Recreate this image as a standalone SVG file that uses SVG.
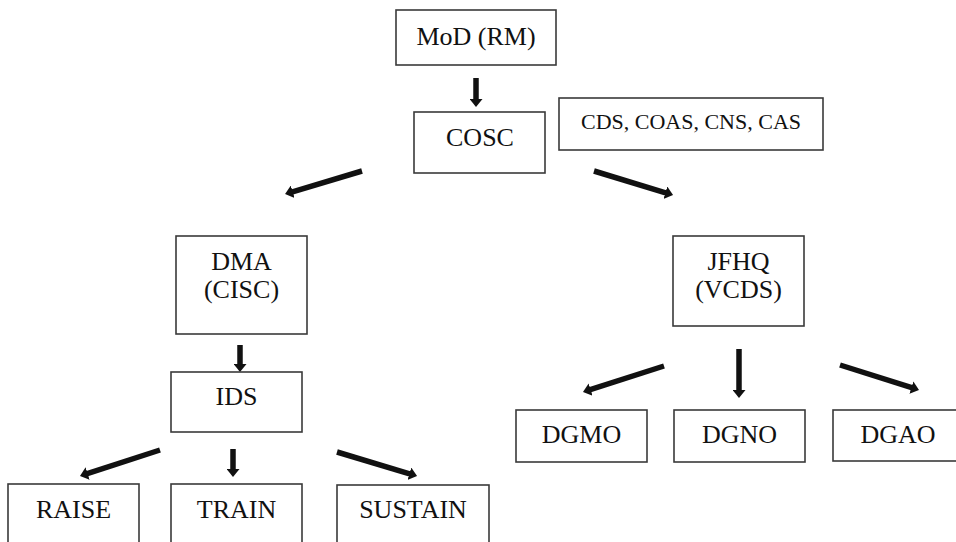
<svg xmlns="http://www.w3.org/2000/svg" width="956" height="542" viewBox="0 0 956 542" font-family="'Liberation Serif', 'DejaVu Serif', serif">
<style>
  .box { fill: #ffffff; stroke: #3a3a3a; stroke-width: 1.6; }
  .lbl { font-family: 'Liberation Serif', 'DejaVu Serif', serif; font-size: 26px; fill: #111111; text-anchor: middle; }
  .sm { font-size: 22px; }
  .arr { stroke: #111111; stroke-width: 5.5; fill: none; marker-end: url(#head); }
</style>
<defs>
  <marker id="head" markerUnits="userSpaceOnUse" viewBox="0 0 8 13" markerWidth="8" markerHeight="13" refX="2" refY="6.5" orient="auto">
    <path d="M0,0 L8,6.5 L0,13 z" fill="#111111"/>
  </marker>
</defs>
<rect width="956" height="542" fill="#ffffff"/>

<g id="connectors">
  <line class="arr" x1="476" y1="78" x2="476" y2="101"/>
  <line class="arr" x1="362" y1="171" x2="290.8" y2="192.3"/>
  <line class="arr" x1="594" y1="171" x2="667.3" y2="193.3"/>
  <line class="arr" x1="240" y1="345" x2="240" y2="366"/>
  <line class="arr" x1="160" y1="450" x2="85.7" y2="474.1"/>
  <line class="arr" x1="233" y1="449" x2="233" y2="471"/>
  <line class="arr" x1="337" y1="452" x2="411.3" y2="474.3"/>
  <line class="arr" x1="664" y1="366" x2="588.7" y2="390.2"/>
  <line class="arr" x1="739" y1="349" x2="739" y2="392"/>
  <line class="arr" x1="840" y1="365" x2="913.3" y2="388.2"/>
</g>

<g id="mod">
  <rect class="box" x="396" y="10" width="160" height="55"/>
  <text class="lbl" x="476" y="45">MoD (RM)</text>
</g>
<g id="cosc">
  <rect class="box" x="414" y="112" width="131" height="61"/>
  <text class="lbl" x="480" y="146">COSC</text>
</g>
<g id="chiefs">
  <rect class="box" x="559" y="98" width="264" height="52"/>
  <text class="lbl sm" x="691" y="129">CDS, COAS, CNS, CAS</text>
</g>
<g id="dma">
  <rect class="box" x="176" y="236" width="131" height="98"/>
  <text class="lbl" x="241.5" y="270">DMA</text>
  <text class="lbl" x="241.5" y="298">(CISC)</text>
</g>
<g id="jfhq">
  <rect class="box" x="673" y="236" width="131" height="90"/>
  <text class="lbl" x="738.5" y="270">JFHQ</text>
  <text class="lbl" x="738.5" y="298">(VCDS)</text>
</g>
<g id="ids">
  <rect class="box" x="171" y="372" width="131" height="60"/>
  <text class="lbl" x="236.5" y="405">IDS</text>
</g>
<g id="raise">
  <rect class="box" x="8" y="484" width="131" height="64"/>
  <text class="lbl" x="73.5" y="518">RAISE</text>
</g>
<g id="train">
  <rect class="box" x="171" y="484" width="131" height="64"/>
  <text class="lbl" x="236.5" y="518">TRAIN</text>
</g>
<g id="sustain">
  <rect class="box" x="337" y="485" width="152" height="63"/>
  <text class="lbl" x="413" y="518">SUSTAIN</text>
</g>
<g id="dgmo">
  <rect class="box" x="516" y="410" width="131" height="52"/>
  <text class="lbl" x="581.5" y="443">DGMO</text>
</g>
<g id="dgno">
  <rect class="box" x="674" y="410" width="131" height="52"/>
  <text class="lbl" x="739.5" y="443">DGNO</text>
</g>
<g id="dgao">
  <rect class="box" x="833" y="410" width="130" height="51"/>
  <text class="lbl" x="898" y="443">DGAO</text>
</g>
</svg>
